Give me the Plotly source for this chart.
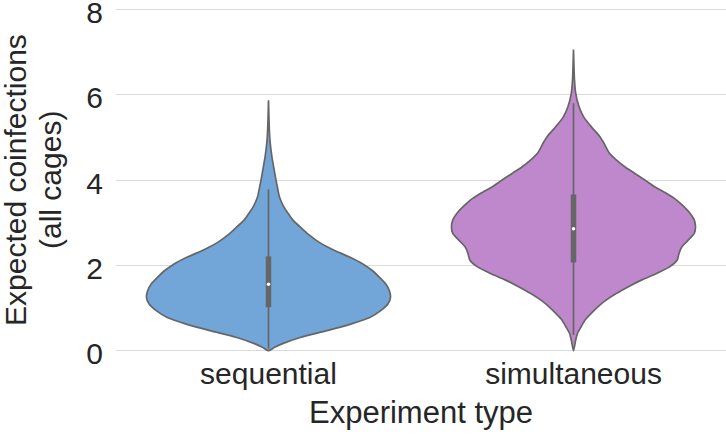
import plotly.graph_objects as go

# ---- data ----
categories = ["sequential", "simultaneous"]

# density profiles (relative width, 1 = widest) at the given y values
seq_y = [0, 0.08, 0.16, 0.31, 0.47, 0.63, 0.78, 0.94, 1.10, 1.25, 1.41, 1.57, 1.72, 1.88,
         2.04, 2.20, 2.38, 2.55, 2.72, 2.90, 3.06, 3.22, 3.40, 3.60, 3.80, 4.05, 4.31, 4.54,
         4.93, 5.32, 5.87]
seq_density = [0, 0.05, 0.11, 0.26, 0.48, 0.68, 0.83, 0.92, 0.98, 1.0, 0.99, 0.96, 0.91, 0.85,
               0.77, 0.66, 0.52, 0.41, 0.33, 0.26, 0.20, 0.16, 0.12, 0.09, 0.075, 0.058, 0.042,
               0.028, 0.012, 0.005, 0]

sim_y = [0, 0.25, 0.41, 0.56, 0.72, 0.875, 1.03, 1.19, 1.34, 1.5, 1.66, 1.81, 1.97, 2.125,
         2.28, 2.44, 2.59, 2.75, 2.91, 3.06, 3.22, 3.375, 3.53, 3.69, 3.84, 4.0, 4.16, 4.31,
         4.47, 4.625, 4.86, 5.02, 5.25, 5.48, 5.72, 6.03, 6.34, 7.06]
sim_density = [0, 0.018, 0.033, 0.062, 0.095, 0.145, 0.20, 0.27, 0.35, 0.45, 0.56, 0.68, 0.79,
               0.85, 0.865, 0.89, 0.94, 0.99, 1.0, 0.99, 0.955, 0.905, 0.845, 0.76, 0.665,
               0.585, 0.50, 0.42, 0.35, 0.295, 0.25, 0.215, 0.145, 0.083, 0.045, 0.018, 0.008, 0]

# inner box statistics: whisker low, q1, median, q3, whisker high
seq_stats = [0.05, 1.02, 1.56, 2.21, 3.78]
sim_stats = [0.37, 2.07, 2.86, 3.66, 5.80]

colors = ["#73A6D8", "#BF87CC"]
gray = "#666666"
half_width = 0.4

profiles = [(seq_y, seq_density, seq_stats), (sim_y, sim_density, sim_stats)]

fig = go.Figure()
for i, (ys, dens, st) in enumerate(profiles):
    xs = [i + half_width * d for d in dens] + [i - half_width * d for d in reversed(dens)]
    yy = list(ys) + list(reversed(ys))
    fig.add_trace(go.Scatter(x=xs, y=yy, mode="lines", fill="toself", fillcolor=colors[i],
                             line=dict(color=gray, width=1.7, shape="spline", smoothing=0.6),
                             hoverinfo="skip", showlegend=False))
    # whiskers
    fig.add_trace(go.Scatter(x=[i, i], y=[st[0], st[4]], mode="lines",
                             line=dict(color=gray, width=1.7), showlegend=False, hoverinfo="skip"))
    # box
    fig.add_trace(go.Scatter(x=[i, i], y=[st[1], st[3]], mode="lines",
                             line=dict(color=gray, width=5.5), showlegend=False, hoverinfo="skip"))
    # median
    fig.add_trace(go.Scatter(x=[i], y=[st[2]], mode="markers",
                             marker=dict(color="white", size=3.5, line=dict(width=0)),
                             showlegend=False, hoverinfo="skip"))

font_family = "Liberation Sans, Arial, sans-serif"
fig.update_layout(
    width=726, height=436,
    margin=dict(l=116, r=0, t=8, b=84, autoexpand=False),
    plot_bgcolor="white", paper_bgcolor="white",
    font=dict(family=font_family, color="#262626"),
    xaxis=dict(range=[-0.5, 1.5], tickvals=[0, 1], ticktext=categories, automargin=False,
               showgrid=False, zeroline=False, showline=False, ticks="",
               tickfont=dict(size=30, color="#262626"), ticklabelstandoff=1,
               title=dict(text="Experiment type", font=dict(size=31, color="#262626"), standoff=12)),
    yaxis=dict(range=[-0.03, 8.03], tickvals=[0, 2, 4, 6, 8], automargin=False,
               showgrid=True, gridcolor="#DADADA", gridwidth=1, zeroline=False, showline=False,
               ticks="", tickfont=dict(size=30, color="#262626"), ticklabelstandoff=12,
               ticklabelshift=3, ticklabeloverflow="allow"),
    annotations=[
        dict(text="Expected coinfections", xref="paper", yref="paper", x=(15 - 116) / 610,
             y=0.5, textangle=-90, showarrow=False, xanchor="center", yanchor="middle",
             font=dict(size=30, color="#262626")),
        dict(text="(all cages)", xref="paper", yref="paper", x=(50 - 116) / 610,
             y=0.5, textangle=-90, showarrow=False, xanchor="center", yanchor="middle",
             font=dict(size=30, color="#262626")),
    ],
)

fig.write_html("out.html", config={"displayModeBar": False},
               post_script="document.body.style.margin='0';document.body.style.overflow='hidden';")
